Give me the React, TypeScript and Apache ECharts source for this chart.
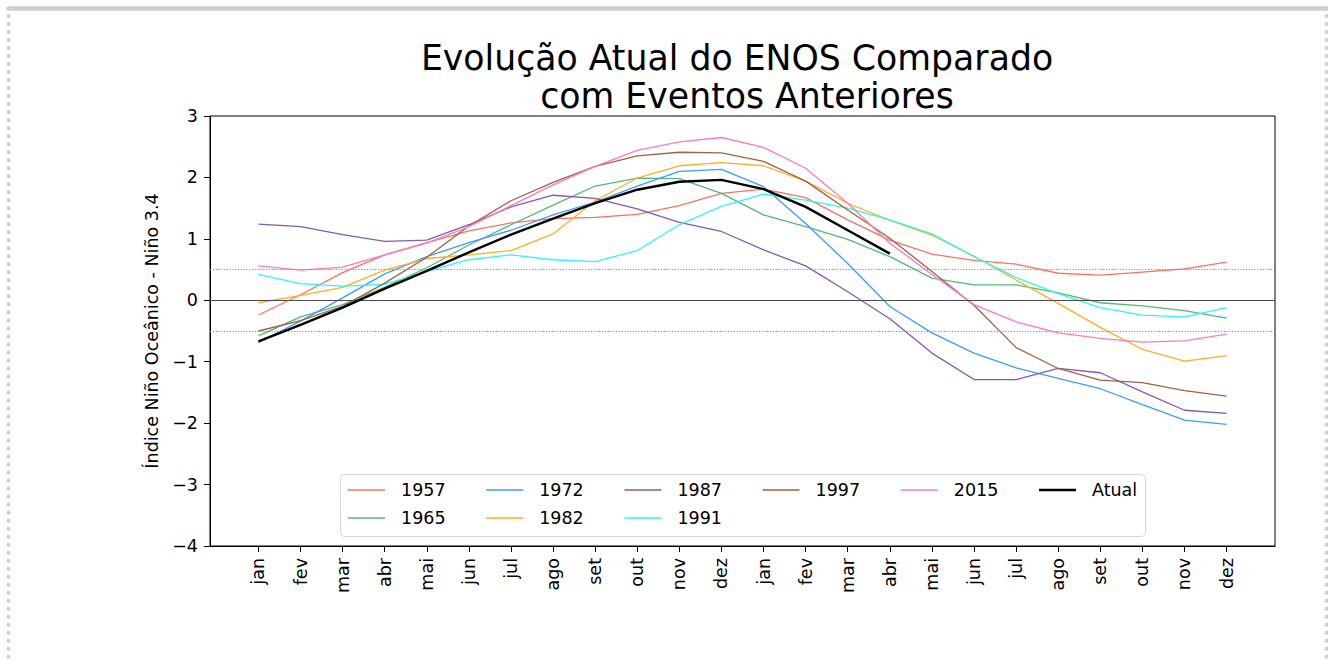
import React, { useEffect, useRef } from "react";
import * as echarts from "echarts";

const months = [
  "jan", "fev", "mar", "abr", "mai", "jun", "jul", "ago", "set", "out", "nov", "dez",
  "jan", "fev", "mar", "abr", "mai", "jun", "jul", "ago", "set", "out", "nov", "dez",
];
const monthIndex = months.map((_, i) => i);

const s1957 = [-0.24, 0.09, 0.45, 0.74, 0.94, 1.13, 1.26, 1.33, 1.35, 1.40, 1.54, 1.74, 1.81, 1.67, 1.31, 0.98, 0.75, 0.65, 0.59, 0.44, 0.41, 0.46, 0.51, 0.62];
const s1965 = [-0.58, -0.27, -0.07, 0.21, 0.53, 0.90, 1.23, 1.55, 1.86, 1.99, 1.98, 1.74, 1.39, 1.20, 0.99, 0.71, 0.36, 0.25, 0.25, 0.12, -0.04, -0.09, -0.17, -0.29];
const s1972 = [-0.69, -0.34, 0.04, 0.43, 0.71, 0.94, 1.14, 1.39, 1.60, 1.86, 2.10, 2.13, 1.85, 1.25, 0.60, -0.10, -0.53, -0.86, -1.10, -1.27, -1.44, -1.70, -1.95, -2.02];
const s1982 = [-0.04, 0.08, 0.21, 0.49, 0.68, 0.74, 0.81, 1.08, 1.62, 1.99, 2.19, 2.24, 2.19, 1.94, 1.58, 1.30, 1.06, 0.72, 0.33, -0.05, -0.44, -0.80, -0.99, -0.90];
const s1987 = [1.24, 1.20, 1.07, 0.96, 0.98, 1.23, 1.52, 1.71, 1.66, 1.49, 1.27, 1.12, 0.82, 0.56, 0.14, -0.30, -0.86, -1.29, -1.29, -1.11, -1.18, -1.49, -1.79, -1.84];
const s1991 = [0.42, 0.27, 0.23, 0.26, 0.47, 0.66, 0.74, 0.66, 0.63, 0.81, 1.23, 1.53, 1.73, 1.63, 1.50, 1.31, 1.08, 0.71, 0.37, 0.11, -0.12, -0.24, -0.27, -0.12];
const s1997 = [-0.50, -0.33, -0.10, 0.28, 0.70, 1.21, 1.62, 1.92, 2.18, 2.35, 2.41, 2.40, 2.26, 1.94, 1.47, 1.01, 0.47, -0.08, -0.77, -1.11, -1.30, -1.34, -1.47, -1.56];
const s2015 = [0.56, 0.49, 0.54, 0.74, 0.93, 1.20, 1.54, 1.88, 2.18, 2.44, 2.58, 2.65, 2.49, 2.15, 1.58, 0.93, 0.42, -0.07, -0.35, -0.53, -0.62, -0.68, -0.66, -0.55];
const sAtual = [-0.67, -0.40, -0.12, 0.19, 0.48, 0.78, 1.07, 1.33, 1.58, 1.80, 1.93, 1.96, 1.81, 1.52, 1.14, 0.76];

const seriesNames = ["1957", "1965", "1972", "1982", "1987", "1991", "1997", "2015", "Atual"];
const seriesValues = [s1957, s1965, s1972, s1982, s1987, s1991, s1997, s2015, sAtual];
const seriesColors = ["#fa7262", "#4fb97e", "#3d9bff", "#ffae24", "#8259b3", "#30f6f6", "#a0623f", "#ff7abd", "#000000"];

const legendColumns = [["1957", "1965"], ["1972", "1982"], ["1987", "1991"], ["1997"], ["2015"], ["Atual"]];
const refLines = [0, 0.5, -0.5];
const titleLines = ["Evolução Atual do ENOS Comparado", "com Eventos Anteriores"];

const FONT = "DejaVu Sans";

export default function App() {
  const ref = useRef<HTMLDivElement>(null);
  useEffect(() => {
    if (!ref.current) return;
    const chart = echarts.init(ref.current, undefined, { renderer: "svg" });

    const series: any[] = seriesNames.map((name, k) => ({
      name,
      type: "line",
      data: seriesValues[k].map((v, i) => [monthIndex[i], v]),
      symbol: "none",
      showSymbol: false,
      lineStyle: { color: seriesColors[k], width: name === "Atual" ? 2.4 : 1.3 },
      itemStyle: { color: seriesColors[k] },
      z: name === "Atual" ? 5 : 3,
    }));
    series[0].markLine = {
      silent: true,
      symbol: "none",
      label: { show: false },
      animation: false,
      data: refLines.map((v) => ({
        yAxis: v,
        lineStyle: v === 0
          ? { color: "#4a4a4a", width: 1, type: "solid" }
          : { color: "#8a8a8a", width: 1, type: [1.2, 1.6] },
      })),
    };

    const legends = legendColumns.map((col, c) => ({
      orient: "vertical",
      left: 348 + 138.2 * c,
      top: 480,
      padding: 0,
      itemGap: 8,
      itemWidth: 37,
      itemHeight: col[0] === "Atual" ? 2.4 : 1.4,
      icon: "rect",
      data: col,
      selectedMode: false,
      textStyle: { fontFamily: FONT, fontSize: 17.5, color: "#000", lineHeight: 20, padding: [0, 0, 0, 11] },
    }));

    chart.setOption({
      animation: false,
      backgroundColor: "#ffffff",
      title: titleLines.map((t, i) => ({
        text: t,
        left: i === 0 ? 737 : 747,
        top: 38 + 38 * i,
        textAlign: "center",
        padding: 0,
        textStyle: { fontFamily: FONT, fontSize: 34.7, fontWeight: "normal", color: "#000", lineHeight: 40 },
      })),
      legend: legends,
      grid: {
        left: 210, right: 53, top: 116, bottom: 116,
        show: true, borderColor: "#000", borderWidth: 1, backgroundColor: "transparent",
      },
      xAxis: {
        type: "value",
        min: -1.15,
        max: 24.15,
        splitLine: { show: false },
        axisLine: { show: true, onZero: false, lineStyle: { color: "#000", width: 1 } },
        axisTick: { show: true, customValues: monthIndex, length: 6, lineStyle: { color: "#000", width: 1 } },
        axisLabel: {
          customValues: monthIndex,
          formatter: (v: number) => months[Math.round(v)] ?? "",
          rotate: 90,
          margin: 12,
          fontFamily: FONT,
          fontSize: 17.5,
          color: "#000",
        },
      },
      yAxis: {
        type: "value",
        min: -4,
        max: 3,
        interval: 1,
        name: "Índice Niño Oceânico - Niño 3.4",
        nameLocation: "middle",
        nameRotate: 90,
        nameGap: 40,
        nameTextStyle: { fontFamily: FONT, fontSize: 17.5, color: "#000" },
        splitLine: { show: false },
        axisLine: { show: true, onZero: false, lineStyle: { color: "#000", width: 1 } },
        axisTick: { show: true, length: 6, lineStyle: { color: "#000", width: 1 } },
        axisLabel: {
          formatter: (v: number) => String(v).replace("-", "\u2212"),
          margin: 12,
          fontFamily: FONT,
          fontSize: 17.5,
          color: "#000",
        },
      },
      graphic: [
        {
          type: "rect",
          shape: { x: 340.5, y: 474.5, width: 805, height: 62, r: 4 },
          style: { fill: "rgba(255,255,255,0.8)", stroke: "#d6d6d6", lineWidth: 1 },
          z: 1,
          silent: true,
        },
        {
          type: "line",
          shape: { x1: 8.5, y1: 8.5, x2: 1330, y2: 8.5 },
          style: { stroke: "#cfcfcf", lineWidth: 4.5, lineCap: "round" },
          silent: true,
        },
        {
          type: "line",
          shape: { x1: 8.5, y1: 16, x2: 8.5, y2: 662 },
          style: { stroke: "#cfcfcf", lineWidth: 4, lineCap: "round", lineDash: [0.01, 8] },
          silent: true,
        },
        {
          type: "line",
          shape: { x1: 1326.5, y1: 16, x2: 1326.5, y2: 662 },
          style: { stroke: "#cfcfcf", lineWidth: 4, lineCap: "round", lineDash: [0.01, 8] },
          silent: true,
        },
      ],
      series,
    });
    return () => chart.dispose();
  }, []);
  return (
    <div
      ref={ref}
      style={{ position: "fixed", left: 0, top: 0, width: 1328, height: 662, background: "#fff" }}
    />
  );
}
